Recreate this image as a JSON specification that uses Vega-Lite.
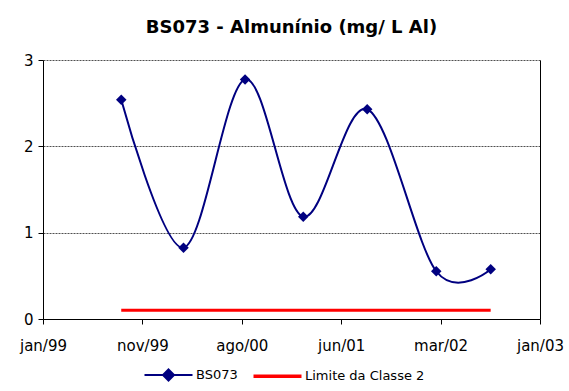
{
  "$schema": "https://vega.github.io/schema/vega-lite/v6.json",
  "width": 497,
  "height": 259,
  "autosize": "none",
  "padding": {"left": 43, "top": 60, "right": 29, "bottom": 72},
  "background": "white",
  "title": {"text": "BS073 - Almunínio (mg/ L Al)", "font": "DejaVu Sans", "fontSize": 18, "fontWeight": "bold", "color": "black", "anchor": "middle", "frame": "group", "offset": 16},
  "datasets": {
    "bs": [
      {"date": "1999-08-19", "valor": 2.54, "serie": "BS073"},
      {"date": "2000-02-18", "valor": 0.826, "serie": "BS073"},
      {"date": "2000-08-17", "valor": 2.775, "serie": "BS073"},
      {"date": "2001-02-04", "valor": 1.185, "serie": "BS073"},
      {"date": "2001-08-11", "valor": 2.43, "serie": "BS073"},
      {"date": "2002-03-02", "valor": 0.553, "serie": "BS073"},
      {"date": "2002-08-09", "valor": 0.575, "serie": "BS073"}
    ],
    "lim": [
      {"date": "1999-08-19", "valor": 0.1, "serie": "Limite da Classe 2"},
      {"date": "2002-08-09", "valor": 0.1, "serie": "Limite da Classe 2"}
    ]
  },
  "layer": [
    {
      "data": {"name": "lim"},
      "mark": {"type": "line", "strokeWidth": 3},
      "encoding": {
        "x": {"field": "date", "type": "temporal",
          "scale": {"type": "utc", "domain": [915148800000, 1041379200000]},
          "axis": {"values": [915148800000, 940394880000, 965640960000, 990887040000, 1016133120000, 1041379200000],
            "labelExpr": "utcyear(datum.value)==1999 ? (utcmonth(datum.value)==0 ? 'jan/99' : 'nov/99') : utcyear(datum.value)==2000 ? 'ago/00' : utcyear(datum.value)==2001 ? 'jun/01' : utcyear(datum.value)==2002 ? 'mar/02' : 'jan/03'"}},
        "y": {"field": "valor", "type": "quantitative",
          "scale": {"domain": [0, 3], "nice": false, "zero": true},
          "axis": {"values": [0, 1, 2, 3], "grid": true}},
        "color": {"field": "serie", "type": "nominal",
          "scale": {"domain": ["BS073", "Limite da Classe 2"], "range": ["#000080", "#FF0000"]},
          "legend": {
            "orient": "none", "legendX": 119, "legendY": 308, "direction": "horizontal", "title": null,
            "symbolType": "M-1,0L1,0", "symbolSize": 2304, "symbolStrokeWidth": 2,
            "labelFont": "DejaVu Sans", "labelFontSize": 13, "labelColor": "black",
            "labelOffset": 21, "columnPadding": 8,
            "encode": {"symbols": {"update": {
              "shape": {"signal": "datum.value === 'BS073' ? 'M-1,0L1,0M0,-0.23L0.23,0L0,0.23L-0.23,0Z' : 'M-1,0L1,0'"},
              "fill": {"signal": "datum.value === 'BS073' ? '#000080' : 'transparent'"},
              "strokeWidth": {"signal": "datum.value === 'BS073' ? 2 : 3.5"}
            }}}
          }}
      }
    },
    {
      "data": {"name": "bs"},
      "mark": {"type": "line", "interpolate": "cardinal", "strokeWidth": 2},
      "encoding": {
        "x": {"field": "date", "type": "temporal"},
        "y": {"field": "valor", "type": "quantitative", "axis": null},
        "color": {"field": "serie", "type": "nominal"}
      }
    },
    {
      "data": {"name": "bs"},
      "mark": {"type": "point", "shape": "diamond", "filled": true, "size": 110, "color": "#000080", "opacity": 1},
      "encoding": {
        "x": {"field": "date", "type": "temporal"},
        "y": {"field": "valor", "type": "quantitative",
          "axis": {"orient": "right", "labels": false, "ticks": false, "grid": false, "domain": true, "values": [0, 3]}}
      }
    }
  ],
  "resolve": {"axis": {"y": "independent"}},
  "config": {
    "view": {"stroke": null},
    "axis": {"labelFont": "DejaVu Sans", "labelFontSize": 15, "labelColor": "black", "domainColor": "black", "domainWidth": 1, "tickColor": "black", "tickSize": 5, "title": null, "grid": false, "labelOverlap": false, "labelBound": false, "labelFlush": false},
    "axisX": {"labelPadding": 14},
    "axisY": {"labelPadding": 5, "gridColor": "#505050", "gridDash": [2, 1], "gridWidth": 1}
  }
}
